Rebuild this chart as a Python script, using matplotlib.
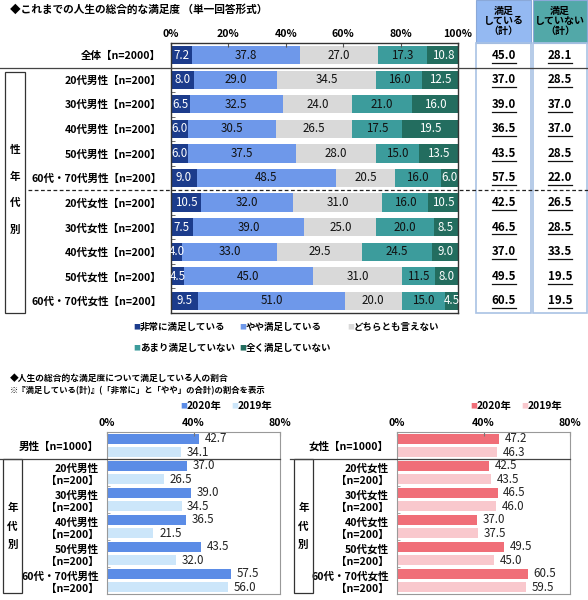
import matplotlib
matplotlib.use("Agg")
import matplotlib.pyplot as plt
import matplotlib.transforms as mtrans
from matplotlib.patches import Rectangle
from matplotlib.lines import Line2D
import numpy as np

plt.rcParams['font.family'] = ['Noto Sans CJK JP', 'DejaVu Sans']

# ---------------- data (top chart) ----------------
top_categories = ['全体【n=2000】', '20代男性【n=200】', '30代男性【n=200】', '40代男性【n=200】',
                  '50代男性【n=200】', '60代・70代男性【n=200】', '20代女性【n=200】', '30代女性【n=200】',
                  '40代女性【n=200】', '50代女性【n=200】', '60代・70代女性【n=200】']
very_satisfied = [7.2, 8.0, 6.5, 6.0, 6.0, 9.0, 10.5, 7.5, 4.0, 4.5, 9.5]
somewhat_satisfied = [37.8, 29.0, 32.5, 30.5, 37.5, 48.5, 32.0, 39.0, 33.0, 45.0, 51.0]
neither = [27.0, 34.5, 24.0, 26.5, 28.0, 20.5, 31.0, 25.0, 29.5, 31.0, 20.0]
not_very = [17.3, 16.0, 21.0, 17.5, 15.0, 16.0, 16.0, 20.0, 24.5, 11.5, 15.0]
not_at_all = [10.8, 12.5, 16.0, 19.5, 13.5, 6.0, 10.5, 8.5, 9.0, 8.0, 4.5]
satisfied_total = ['45.0', '37.0', '39.0', '36.5', '43.5', '57.5', '42.5', '46.5', '37.0', '49.5', '60.5']
unsatisfied_total = ['28.1', '28.5', '37.0', '37.0', '28.5', '22.0', '26.5', '28.5', '33.5', '19.5', '19.5']
series_names = ['非常に満足している', 'やや満足している', 'どちらとも言えない', 'あまり満足していない', '全く満足していない']

# ---------------- data (bottom charts) ----------------
men_categories = ['男性【n=1000】', '20代男性\n【n=200】', '30代男性\n【n=200】', '40代男性\n【n=200】',
                  '50代男性\n【n=200】', '60代・70代男性\n【n=200】']
men_2020 = [42.7, 37.0, 39.0, 36.5, 43.5, 57.5]
men_2019 = [34.1, 26.5, 34.5, 21.5, 32.0, 56.0]
women_categories = ['女性【n=1000】', '20代女性\n【n=200】', '30代女性\n【n=200】', '40代女性\n【n=200】',
                    '50代女性\n【n=200】', '60代・70代女性\n【n=200】']
women_2020 = [47.2, 42.5, 46.5, 37.0, 49.5, 60.5]
women_2019 = [46.3, 43.5, 46.0, 37.5, 45.0, 59.5]
year_labels = ['2020年', '2019年']

# ---------------- styles ----------------
W, H = 588, 600
seg_colors = ['#1c3c8c', '#6e98ea', '#d9d9d9', '#3c9c9c', '#236d5f']
seg_text = ['white', '#111111', '#111111', '#111111', 'white']
men_colors = ['#5b8ce6', '#cce6fa']
women_colors = ['#f06e78', '#f9c8cd']
FS_LAB = 7.6
FS_VAL = 8.3

def fx(px):
    return px / W

def fy(py):
    return 1 - py / H

fig = plt.figure(figsize=(W / 100, H / 100), dpi=100)
fig.patch.set_facecolor('white')

# ---------------- top chart ----------------
ax = fig.add_axes([fx(171), fy(313), (458 - 171) / W, (313 - 43) / H])
series = [very_satisfied, somewhat_satisfied, neither, not_very, not_at_all]
y = np.arange(len(top_categories))
left = np.zeros(len(top_categories))
for vals, col, tcol, name in zip(series, seg_colors, seg_text, series_names):
    vals = np.array(vals)
    ax.barh(y, vals, left=left, height=0.74, color=col, label=name, edgecolor='none')
    for yi, (l, v) in enumerate(zip(left, vals)):
        ax.text(l + v / 2, yi, f'{v:.1f}', ha='center', va='center', fontsize=FS_VAL,
                color=tcol)
    left = left + vals

ax.set_xlim(0, 100)
ax.set_ylim(len(top_categories) - 0.5, -0.5)
ax.set_xticks([0, 20, 40, 60, 80, 100])
ax.set_xticklabels([f'{v}%' for v in [0, 20, 40, 60, 80, 100]], fontsize=FS_LAB, fontweight='bold')
ax.xaxis.tick_top()
ax.tick_params(axis='x', direction='in', length=3, pad=3, color='#555555')
ax.set_yticks(y)
ax.set_yticklabels(top_categories, fontsize=FS_LAB, fontweight='bold')
ax.tick_params(axis='y', length=0, pad=7)
ax.set_yticks(np.arange(-0.5, len(top_categories), 1), minor=True)
ax.tick_params(axis='y', which='minor', direction='in', length=3, color='#555555')
for s in ax.spines.values():
    s.set_color('#333333')
    s.set_linewidth(1.0)

fig.text(fx(10), fy(9), '◆これまでの人生の総合的な満足度 （単一回答形式）', fontsize=7.7,
         fontweight='bold', va='center', ha='left')

# right summary columns
tb = mtrans.blended_transform_factory(fig.transFigure, ax.transData)
col_specs = [(476, 531, '#94b9f2', '#a9c2e4', satisfied_total, '満足\nしている\n（計）'),
             (533, 587, '#52a8a8', '#a9c2e4', unsatisfied_total, '満足\nしていない\n（計）')]
for x0, x1, hcol, bcol, vals, head in col_specs:
    fig.patches.append(Rectangle((fx(x0), fy(43)), fx(x1 - x0), 43 / H, transform=fig.transFigure,
                                 facecolor=hcol, edgecolor='#8aa8d8', linewidth=0.8))
    fig.patches.append(Rectangle((fx(x0), fy(313)), fx(x1 - x0), 270 / H, transform=fig.transFigure,
                                 facecolor='none', edgecolor=bcol, linewidth=1.2))
    fig.text(fx((x0 + x1) / 2), fy(21), head, ha='center', va='center', fontsize=7.2,
             fontweight='bold', linespacing=1.0)
    cx = fx((x0 + x1) / 2)
    for yi, v in enumerate(vals):
        fig.text(cx, yi, v, transform=tb, ha='center', va='center', fontsize=FS_VAL,
                 fontweight='bold')
        fig.add_artist(Line2D([cx - fx(12), cx + fx(12)], [yi + 0.3, yi + 0.3], transform=tb,
                              color='#111111', linewidth=0.9))

# separators
fig.add_artist(Line2D([0, 1], [0.5, 0.5], transform=tb, color='#444444', linewidth=0.9))
fig.add_artist(Line2D([fx(28), 1], [5.5, 5.5], transform=tb, color='#222222', linewidth=0.9,
                      linestyle=(0, (3, 2))))
fig.patches.append(Rectangle((fx(5), fy(313)), fx(20), (313 - 72) / H, transform=fig.transFigure,
                             facecolor='none', edgecolor='#333333', linewidth=0.9))
for ch, py in zip('性年代別', [150, 177, 203, 230]):
    fig.text(fx(15), fy(py), ch, ha='center', va='center', fontsize=FS_LAB, fontweight='bold')

# top legend (manual)
leg_pos = [(133, 327), (239, 327), (347, 327), (133, 348), (239, 348)]
for (px, py), col, name in zip(leg_pos, seg_colors, series_names):
    fig.text(fx(px), fy(py), '■', color=col, fontsize=5.0, ha='left', va='center')
    fig.text(fx(px + 7), fy(py), name, fontsize=6.8, fontweight='bold', ha='left', va='center')

# ---------------- bottom section ----------------
fig.text(fx(10), fy(378), '◆人生の総合的な満足度について満足している人の割合', fontsize=6.3,
         fontweight='bold', ha='left', va='center')
fig.text(fx(10), fy(391), '※『満足している(計)』(「非常に」と「やや」の合計)の割合を表示', fontsize=6.0,
         fontweight='bold', ha='left', va='center')


def small_chart(x_left, cats, v2020, v2019, colors, box_x, line_x0, legend_x):
    a = fig.add_axes([fx(x_left), fy(594), 173 / W, 162 / H])
    yy = np.arange(len(cats))
    a.barh(yy - 0.245, v2020, height=0.37, color=colors[0], edgecolor='none')
    a.barh(yy + 0.245, v2019, height=0.37, color=colors[1], edgecolor='none')
    for yi, (p, q) in enumerate(zip(v2020, v2019)):
        a.annotate(f'{p:.1f}', (p, yi - 0.245), xytext=(4, 0), textcoords='offset points',
                   ha='left', va='center', fontsize=FS_VAL, color='#222222')
        a.annotate(f'{q:.1f}', (q, yi + 0.245), xytext=(4, 0), textcoords='offset points',
                   ha='left', va='center', fontsize=FS_VAL, color='#222222')
    a.set_xlim(0, 80)
    a.set_ylim(len(cats) - 0.5, -0.5)
    a.set_xticks([0, 40, 80])
    a.set_xticklabels(['0%', '40%', '80%'], fontsize=FS_LAB, fontweight='bold')
    a.xaxis.tick_top()
    a.tick_params(axis='x', direction='in', length=3, pad=3, color='#777777')
    a.set_yticks(yy)
    a.set_yticklabels(cats, fontsize=FS_LAB, fontweight='bold', linespacing=1.25)
    a.tick_params(axis='y', length=0, pad=6)
    a.set_yticks(np.arange(-0.5, len(cats), 0.5), minor=True)
    a.tick_params(axis='y', which='minor', direction='in', length=2, color='#999999')
    for s in a.spines.values():
        s.set_color('#999999')
        s.set_linewidth(0.8)
    bt = mtrans.blended_transform_factory(fig.transFigure, a.transData)
    fig.add_artist(Line2D([fx(line_x0), fx(x_left + 173)], [0.5, 0.5], transform=bt,
                          color='#444444', linewidth=0.9))
    fig.patches.append(Rectangle((fx(box_x), fy(593)), fx(19), (593 - 459) / H,
                                 transform=fig.transFigure, facecolor='none',
                                 edgecolor='#333333', linewidth=0.9))
    for ch, py in zip('年代別', [508, 527, 545]):
        fig.text(fx(box_x + 9.5), fy(py), ch, ha='center', va='center', fontsize=FS_LAB,
                 fontweight='bold')
    for k, (col, lab) in enumerate(zip(colors, year_labels)):
        px = legend_x + 51 * k
        fig.text(fx(px), fy(406), '■', color=col, fontsize=5.0, ha='left', va='center')
        fig.text(fx(px + 7), fy(406), lab, fontsize=7.4, fontweight='bold', ha='left',
                 va='center')
    return a


small_chart(107, men_categories, men_2020, men_2019, men_colors, 3, 0, 180)
small_chart(397, women_categories, women_2020, women_2019, women_colors, 294, 290, 470)

fig.savefig('out.png', dpi=100, facecolor='white')
